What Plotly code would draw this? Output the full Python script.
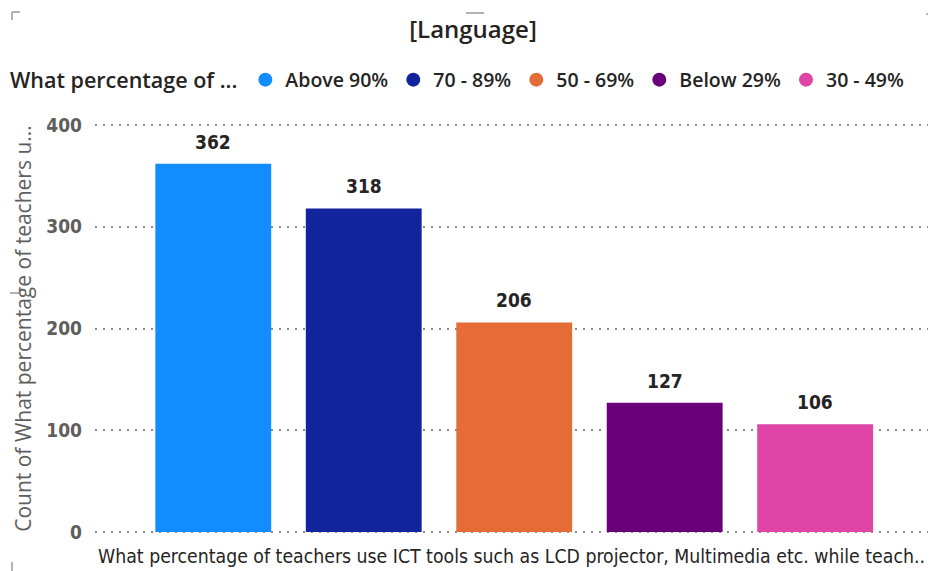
import plotly.graph_objects as go

# Datos
categorias = ['Above 90%', '70 - 89%', '50 - 69%', 'Below 29%', '30 - 49%']
conteos = [362, 318, 206, 127, 106]
colores = ['#118DFF', '#12239E', '#E66C37', '#6B007B', '#E044A7']
ticks_y = [0, 100, 200, 300, 400]

FUENTE_NUM = 'DejaVu Sans Condensed'

fig = go.Figure()

# barras, una traza por categoria
for cat, val, col in zip(categorias, conteos, colores):
    fig.add_trace(go.Bar(
        x=[cat], y=[val],
        marker=dict(color=col, line=dict(width=0)),
        showlegend=False,
        hovertemplate='%{x}: %{y}<extra></extra>'
    ))
    # etiqueta de dato encima de la barra
    fig.add_annotation(
        x=cat, y=val, text=str(val), showarrow=False,
        yanchor='bottom', yshift=9,
        font=dict(size=19, color='#252423', family=FUENTE_NUM, weight='bold')
    )

# leyenda con circulos
for cat, col in zip(categorias, colores):
    fig.add_trace(go.Scatter(
        x=[None], y=[None], mode='markers', name=cat,
        marker=dict(symbol='circle', size=14, color=col)
    ))

fig.update_layout(
    width=933, height=571,
    margin=dict(l=95, r=5, t=124, b=38),
    plot_bgcolor='white', paper_bgcolor='white',
    bargap=0.23,
    title=dict(
        text='[Language]', x=473/933, xref='container', xanchor='center',
        y=1 - 30/571, yref='container', yanchor='middle',
        font=dict(size=24, color='#252423', family='Open Sans', weight=600)
    ),
    legend=dict(
        orientation='h', xref='container', yref='container',
        x=8/933, xanchor='left', y=1 - 80/571, yanchor='middle',
        title=dict(text='What percentage of ...', side='left',
                   font=dict(size=21.5, color='#252423', family='Open Sans', weight=600)),
        font=dict(size=19.5, color='#252423', family='Open Sans', weight=600),
        itemwidth=30, tracegroupgap=0
    ),
    xaxis=dict(
        range=[-0.786, 4.75],
        showticklabels=False, showgrid=False, zeroline=False, ticks='',
        title=dict(text='What percentage of teachers use ICT tools such as LCD projector, Multimedia etc. while teach..',
                   font=dict(size=19.3, color='#252423', family=FUENTE_NUM),
                   standoff=16)
    ),
    yaxis=dict(
        range=[-1, 401], tickvals=ticks_y,
        showgrid=True, gridcolor='#8a8a8a', griddash='2px,6px', gridwidth=1.5,
        zeroline=False, ticks='', ticklabelstandoff=12,
        tickfont=dict(size=19, color='#605E5C', family=FUENTE_NUM, weight='bold'),
        title=dict(text='Count of What percentage of teachers u...',
                   font=dict(size=21, color='#605E5C', family='Open Sans'),
                   standoff=8)
    ),
    showlegend=True
)

# marcas de esquina de Power BI (coordenadas en pixeles del lienzo)
for x0, y0, x1, y1 in [(12, 12, 12, 20), (12, 12, 20, 12), (466, 13, 484, 13),
                       (926, 14, 928, 14), (10, 293, 20, 293), (12, 562, 12, 571)]:
    fig.add_shape(type='line', xref='paper', yref='paper',
                  x0=(x0 - 95) / 833, x1=(x1 - 95) / 833,
                  y0=(533 - y0) / 409, y1=(533 - y1) / 409,
                  line=dict(color='#9a9a9a', width=1.5))

fig.write_html('out.html', config={'displayModeBar': False},
               post_script="document.body.style.margin='0';")
print('ok')
